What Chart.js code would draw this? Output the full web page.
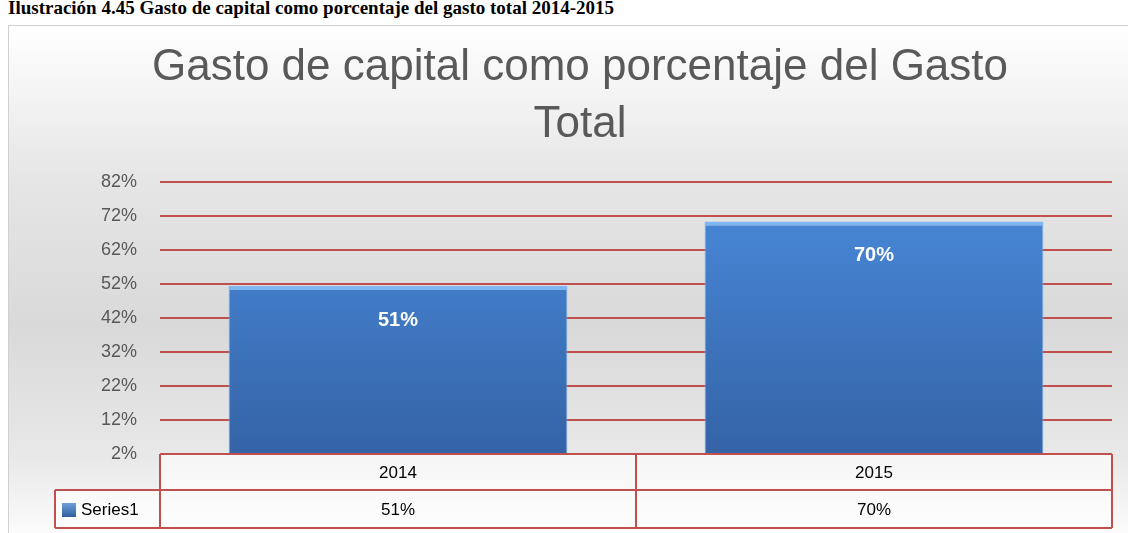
<!DOCTYPE html>
<html lang="es">
<head>
<meta charset="UTF-8">
<title>Gasto de capital</title>
<style>
    body { margin: 0; background: #fff; overflow: hidden; }
    .caption {
        position: absolute; left: 8px; top: -3px;
        font: bold 19px "Liberation Serif", serif; color: #000; white-space: nowrap;
    }
    .box {
        position: absolute; left: 8px; top: 25px; width: 1200px; height: 600px;
        border: 1px solid #d0d0d0;
        background: linear-gradient(to bottom, #ffffff 0px, #e6e6e6 150px, #d9d9d9 300px, #e8e8e8 430px, #ffffff 520px);
    }
    .wrap { position: absolute; left: 0; top: 0; width: 1128px; height: 533px; }
</style>
</head>
<body>
<div class="caption">Ilustración 4.45 Gasto de capital como porcentaje del gasto total 2014-2015</div>
<div class="box"></div>
<div class="wrap"><canvas id="chart" width="1128" height="533"></canvas></div>

<script src="https://cdn.jsdelivr.net/npm/chart.js@4/dist/chart.umd.min.js"></script>
<script>
const titleLines = ['Gasto de capital como porcentaje del Gasto', 'Total'];
const years = ['2014', '2015'];
const series1 = [51.4, 70.4];
const seriesName = 'Series1';
const yTicks = [2, 12, 22, 32, 42, 52, 62, 72, 82];

const red = '#c0504d';
const font = '"Liberation Sans", Arial, sans-serif';

// title, bar labels and the data table under the axis
const extras = {
    id: 'extras',
    afterDatasetsDraw(chart) {
        const ctx = chart.ctx;
        const area = chart.chartArea;
        const x = chart.scales.x;
        ctx.save();

        // labels inside bars
        const meta = chart.getDatasetMeta(0);
        ctx.fillStyle = '#ffffff';
        ctx.font = 'bold 20px ' + font;
        ctx.textAlign = 'center';
        ctx.textBaseline = 'middle';
        meta.data.forEach((bar, i) => {
            ctx.fillText(Math.round(series1[i]) + '%', bar.x, bar.y + 34);
        });

        // data table
        const row1 = area.bottom, row2 = area.bottom + 36, row3 = area.bottom + 74;
        const half = (x.getPixelForValue(1) - x.getPixelForValue(0)) / 2;
        ctx.fillStyle = 'rgba(255,255,255,0.6)';
        ctx.fillRect(area.left, row1, area.right - area.left, row3 - row1);
        ctx.fillRect(55, row2, area.left - 55, row3 - row2);
        ctx.strokeStyle = red;
        ctx.lineWidth = 2;
        ctx.beginPath();
        ctx.moveTo(area.left, row1); ctx.lineTo(area.right, row1);
        ctx.moveTo(55, row2); ctx.lineTo(area.right, row2);
        ctx.moveTo(55, row3); ctx.lineTo(area.right, row3);
        ctx.moveTo(55, row2); ctx.lineTo(55, row3);
        ctx.moveTo(area.left, row1); ctx.lineTo(area.left, row3);
        years.forEach((yr, i) => {
            const r = x.getPixelForValue(i) + half;
            ctx.moveTo(r, row1); ctx.lineTo(r, row3);
        });
        ctx.stroke();

        ctx.fillStyle = '#000000';
        ctx.font = '17px ' + font;
        ctx.textAlign = 'center';
        years.forEach((yr, i) => {
            const cx = x.getPixelForValue(i);
            ctx.fillText(yr, cx, (row1 + row2) / 2 + 1);
            ctx.fillText(Math.round(series1[i]) + '%', cx, (row2 + row3) / 2 + 1);
        });

        // legend key
        const g = ctx.createLinearGradient(0, row2 + 13, 0, row2 + 27);
        g.addColorStop(0, '#6fa0dc');
        g.addColorStop(1, '#2f5f9a');
        ctx.fillStyle = g;
        ctx.fillRect(62, row2 + 13, 14, 14);
        ctx.fillStyle = '#000000';
        ctx.textAlign = 'left';
        ctx.fillText(seriesName, 81, (row2 + row3) / 2 + 1);

        // title
        ctx.fillStyle = '#595959';
        ctx.font = '44px ' + font;
        ctx.textAlign = 'center';
        titleLines.forEach((t, i) => {
            ctx.fillText(t, 580, 68 + i * 57);
        });
        ctx.restore();
    }
};

const ctxEl = document.getElementById('chart');
new Chart(ctxEl, {
    type: 'bar',
    data: {
        labels: years,
        datasets: [{
            label: seriesName,
            data: series1,
            backgroundColor: (c) => {
                const area = c.chart.chartArea;
                if (!area) return '#3f7fcf';
                const g = c.chart.ctx.createLinearGradient(0, area.top, 0, area.bottom);
                g.addColorStop(0, '#4a8bdc');
                g.addColorStop(1, '#3463a6');
                return g;
            },
            borderColor: '#7fb7f2',
            borderWidth: { top: 4, left: 1, right: 1, bottom: 0 },
            borderSkipped: false,
            barPercentage: 0.712,
            categoryPercentage: 1
        }]
    },
    options: {
        responsive: false,
        animation: false,
        layout: { padding: { left: 0, right: 16, top: 182, bottom: 79 } },
        plugins: {
            legend: { display: false },
            title: { display: false },
            tooltip: { enabled: false }
        },
        scales: {
            x: {
                display: false
            },
            y: {
                min: 2,
                max: 82,
                afterBuildTicks: (axis) => { axis.ticks = yTicks.map(v => ({ value: v })); },
                afterFit: (axis) => { axis.width = 160; },
                ticks: {
                    color: '#595959',
                    font: { family: font, size: 18 },
                    padding: 23,
                    callback: (v) => v + '%'
                },
                grid: { color: red, lineWidth: 2, drawTicks: false },
                border: { display: false }
            }
        }
    },
    plugins: [extras]
});
</script>
</body>
</html>
